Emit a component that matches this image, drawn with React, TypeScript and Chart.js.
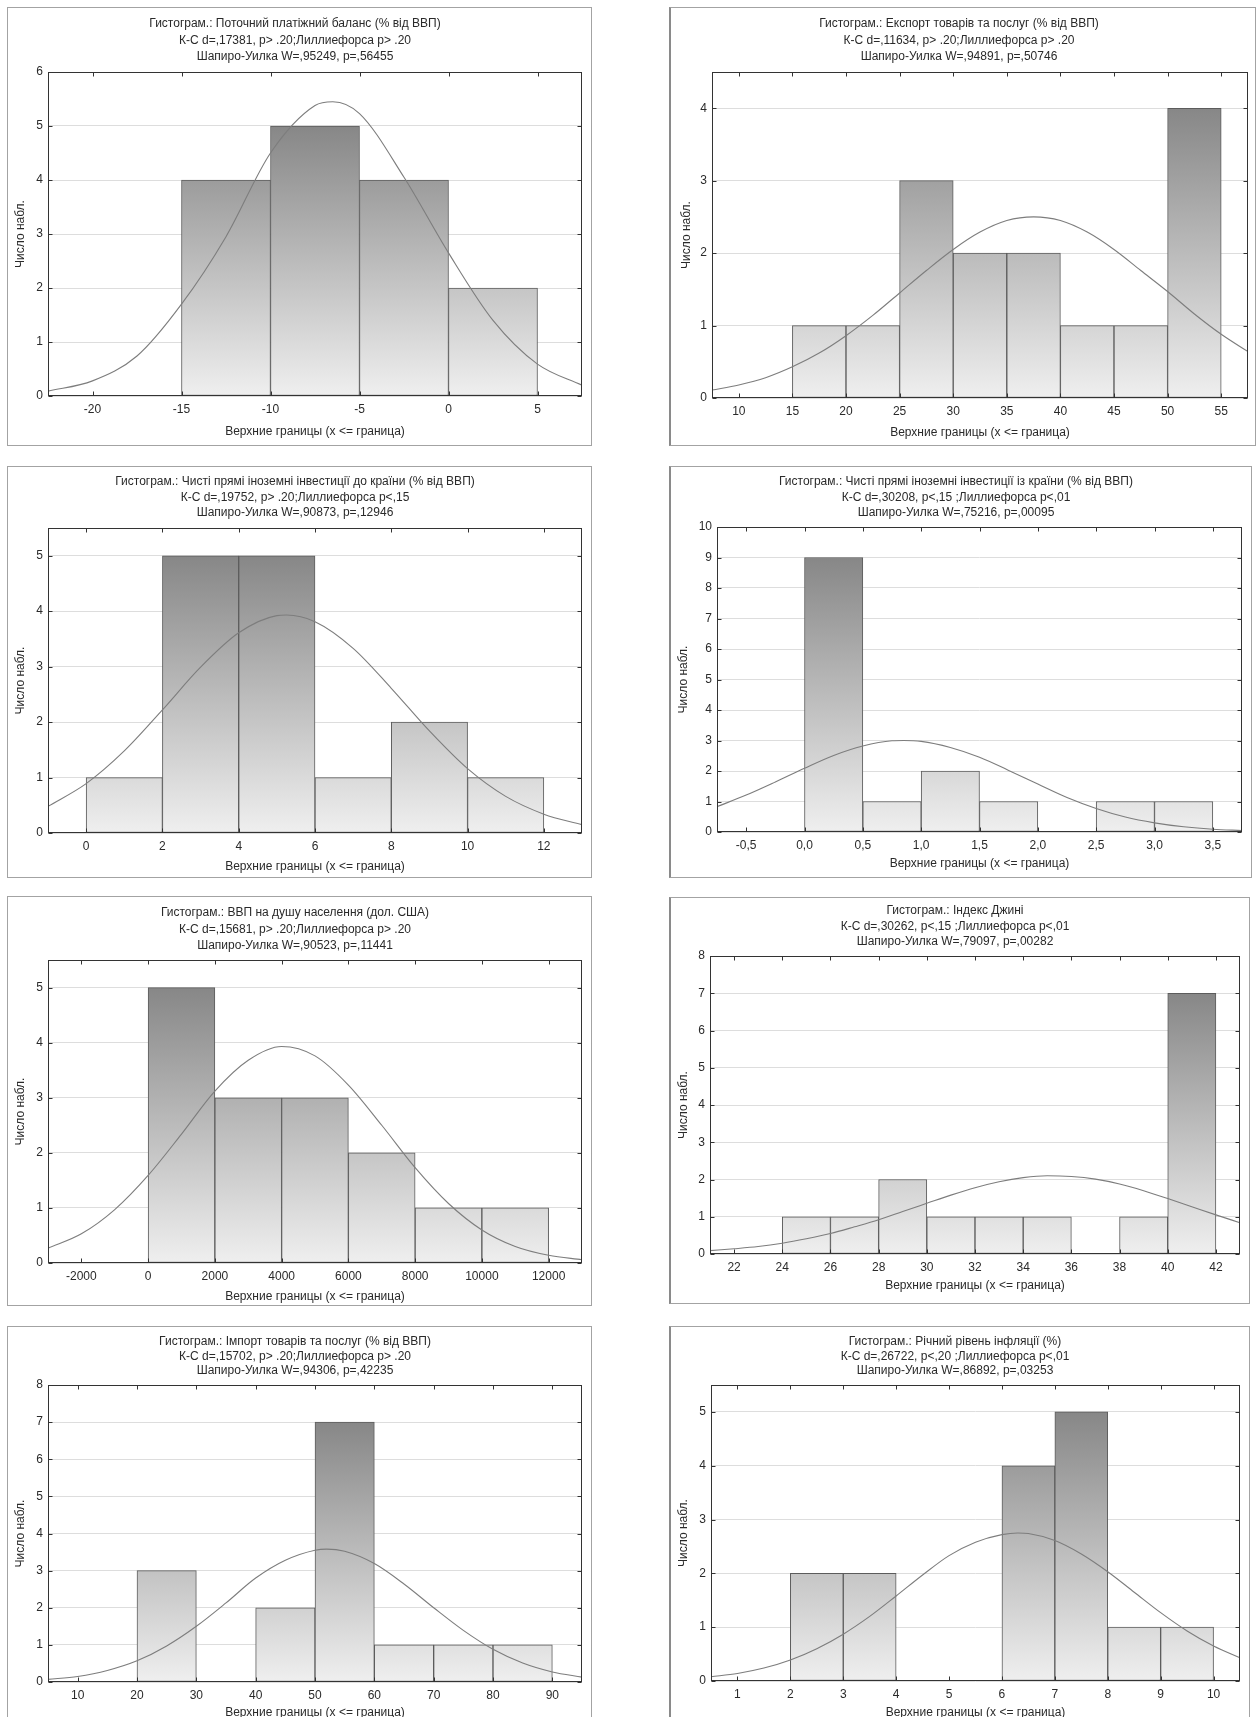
import React, { useEffect, useRef } from 'react';
import { Chart, registerables } from 'chart.js';

Chart.register(...registerables);

const FONT = '"Liberation Sans", Arial, sans-serif';
const TEXT = '#2a2a2a';
const X_TITLE = 'Верхние границы (x <= граница)';
const Y_TITLE = 'Число набл.';

// ---------- Panel 1: current account ----------
const balanceTitle = ['Гистограм.: Поточний платіжний баланс (% від ВВП)', 'К-С d=,17381, p> .20;Лиллиефорса p> .20', 'Шапиро-Уилка W=,95249, p=,56455'];
const balanceUpper = [-10, -5, 0, 5];
const balanceCounts = [4, 5, 4, 2];
const balanceCurveX = [-22.5, -20, -17.5, -15, -12.5, -10, -7.5, -6.5, -5, -2.5, 0, 2.5, 5, 7.5];
const balanceCurveY = [0.09, 0.28, 0.74, 1.7, 2.95, 4.5, 5.38, 5.45, 5.23, 4.05, 2.65, 1.4, 0.59, 0.2];
const balanceXTicks = [-20, -15, -10, -5, 0, 5];
const balanceYTicks = [0, 1, 2, 3, 4, 5, 6];

// ---------- Panel 2: exports ----------
const exportTitle = ['Гистограм.: Експорт товарів та послуг (% від ВВП)', 'К-С d=,11634, p> .20;Лиллиефорса p> .20', 'Шапиро-Уилка W=,94891, p=,50746'];
const exportUpper = [20, 25, 30, 35, 40, 45, 50, 55];
const exportCounts = [1, 1, 3, 2, 2, 1, 1, 4];
const exportCurveX = [7.5, 10, 12.5, 15, 17.5, 20, 22.5, 25, 27.5, 30, 32.5, 35, 37.5, 40, 42.5, 45, 47.5, 50, 52.5, 55, 57.5];
const exportCurveY = [0.11, 0.18, 0.28, 0.43, 0.62, 0.86, 1.14, 1.45, 1.76, 2.05, 2.29, 2.45, 2.5, 2.45, 2.29, 2.05, 1.76, 1.47, 1.16, 0.88, 0.64];
const exportXTicks = [10, 15, 20, 25, 30, 35, 40, 45, 50, 55];
const exportYTicks = [0, 1, 2, 3, 4];

// ---------- Panel 3: FDI inflows ----------
const fdiInTitle = ['Гистограм.: Чисті прямі іноземні інвестиції до країни (% від ВВП)', 'К-С d=,19752, p> .20;Лиллиефорса p<,15', 'Шапиро-Уилка W=,90873, p=,12946'];
const fdiInUpper = [2, 4, 6, 8, 10, 12];
const fdiInCounts = [1, 5, 5, 1, 2, 1];
const fdiInCurveX = [-1, 0, 1, 2, 3, 4, 5, 5.25, 6, 7, 8, 9, 10, 11, 12, 13];
const fdiInCurveY = [0.48, 0.89, 1.48, 2.22, 2.99, 3.61, 3.92, 3.93, 3.81, 3.33, 2.61, 1.84, 1.16, 0.66, 0.34, 0.15];
const fdiInXTicks = [0, 2, 4, 6, 8, 10, 12];
const fdiInYTicks = [0, 1, 2, 3, 4, 5];

// ---------- Panel 4: FDI outflows ----------
const fdiOutTitle = ['Гистограм.: Чисті прямі іноземні інвестиції із країни (% від ВВП)', 'К-С d=,30208, p<,15 ;Лиллиефорса p<,01', 'Шапиро-Уилка W=,75216, p=,00095'];
const fdiOutUpper = [0.5, 1, 1.5, 2, 2.5, 3, 3.5];
const fdiOutCounts = [9, 1, 2, 1, 0, 1, 1];
const fdiOutCurveX = [-0.75, -0.5, -0.25, 0, 0.25, 0.5, 0.75, 0.85, 1, 1.25, 1.5, 1.75, 2, 2.25, 2.5, 2.75, 3, 3.25, 3.5, 3.75];
const fdiOutCurveY = [0.83, 1.21, 1.64, 2.09, 2.51, 2.82, 2.99, 3.0, 2.97, 2.77, 2.45, 2.02, 1.57, 1.13, 0.77, 0.49, 0.3, 0.17, 0.09, 0.05];
const fdiOutXTicks = [-0.5, 0, 0.5, 1, 1.5, 2, 2.5, 3, 3.5];
const fdiOutYTicks = [0, 1, 2, 3, 4, 5, 6, 7, 8, 9, 10];

// ---------- Panel 5: GDP per capita ----------
const gdpTitle = ['Гистограм.: ВВП на душу населення (дол. США)', 'К-С d=,15681, p> .20;Лиллиефорса p> .20', 'Шапиро-Уилка W=,90523, p=,11441'];
const gdpUpper = [2000, 4000, 6000, 8000, 10000, 12000];
const gdpCounts = [5, 3, 3, 2, 1, 1];
const gdpCurveX = [-3000, -2000, -1000, 0, 1000, 2000, 3000, 4000, 5000, 6000, 7000, 8000, 9000, 10000, 11000, 12000, 13000];
const gdpCurveY = [0.27, 0.53, 0.97, 1.59, 2.34, 3.12, 3.68, 3.93, 3.76, 3.23, 2.5, 1.73, 1.08, 0.6, 0.3, 0.14, 0.06];
const gdpXTicks = [-2000, 0, 2000, 4000, 6000, 8000, 10000, 12000];
const gdpYTicks = [0, 1, 2, 3, 4, 5];

// ---------- Panel 6: Gini index ----------
const giniTitle = ['Гистограм.: Індекс Джині', 'К-С d=,30262, p<,15 ;Лиллиефорса p<,01', 'Шапиро-Уилка W=,79097, p=,00282'];
const giniUpper = [26, 28, 30, 32, 34, 36, 38, 40, 42];
const giniCounts = [1, 1, 2, 1, 1, 1, 0, 1, 7];
const giniCurveX = [21, 22, 23, 24, 25, 26, 27, 28, 29, 30, 31, 32, 33, 34, 35, 36, 37, 38, 39, 40, 41, 42, 43];
const giniCurveY = [0.09, 0.14, 0.2, 0.29, 0.41, 0.55, 0.73, 0.92, 1.14, 1.36, 1.58, 1.78, 1.94, 2.05, 2.1, 2.08, 2.01, 1.88, 1.7, 1.49, 1.27, 1.05, 0.84];
const giniXTicks = [22, 24, 26, 28, 30, 32, 34, 36, 38, 40, 42];
const giniYTicks = [0, 1, 2, 3, 4, 5, 6, 7, 8];

// ---------- Panel 7: imports ----------
const importTitle = ['Гистограм.: Імпорт товарів та послуг (% від ВВП)', 'К-С d=,15702, p> .20;Лиллиефорса p> .20', 'Шапиро-Уилка W=,94306, p=,42235'];
const importUpper = [30, 40, 50, 60, 70, 80, 90];
const importCounts = [3, 0, 2, 7, 1, 1, 1];
const importCurveX = [5, 10, 15, 20, 25, 30, 35, 40, 45, 50, 52, 55, 60, 65, 70, 75, 80, 85, 90, 95];
const importCurveY = [0.07, 0.15, 0.31, 0.57, 0.97, 1.5, 2.13, 2.8, 3.28, 3.55, 3.58, 3.52, 3.19, 2.64, 2.0, 1.39, 0.88, 0.51, 0.27, 0.13];
const importXTicks = [10, 20, 30, 40, 50, 60, 70, 80, 90];
const importYTicks = [0, 1, 2, 3, 4, 5, 6, 7, 8];

// ---------- Panel 8: inflation ----------
const inflTitle = ['Гистограм.: Річний рівень інфляції (%)', 'К-С d=,26722, p<,20 ;Лиллиефорса p<,01', 'Шапиро-Уилка W=,86892, p=,03253'];
const inflUpper = [3, 4, 5, 6, 7, 8, 9, 10];
const inflCounts = [2, 2, 0, 0, 4, 5, 1, 1];
const inflCurveX = [0.5, 1, 1.5, 2, 2.5, 3, 3.5, 4, 4.5, 5, 5.5, 6, 6.3, 6.5, 7, 7.5, 8, 8.5, 9, 9.5, 10, 10.5];
const inflCurveY = [0.08, 0.14, 0.24, 0.39, 0.6, 0.87, 1.2, 1.58, 1.97, 2.33, 2.58, 2.72, 2.75, 2.74, 2.61, 2.36, 2.03, 1.65, 1.27, 0.93, 0.65, 0.43];
const inflXTicks = [1, 2, 3, 4, 5, 6, 7, 8, 9, 10];
const inflYTicks = [0, 1, 2, 3, 4, 5];

type Spec = {
  title: string[];
  upper: number[];
  counts: number[];
  binWidth: number;
  curveX: number[];
  curveY: number[];
  xTicks: number[];
  yTicks: number[];
  xRange: [number, number];
  yMax: number;
  fmt: (v: number) => string;
  frame: [number, number, number, number];
  plot: [number, number, number, number];
  t1: number;
  lh: number;
  yTitleX: number;
  xTitleGap: number;
};

const plain = (v: number) => String(v);
const comma = (v: number) => v.toFixed(1).replace('.', ',');

const PANELS: Spec[] = [
  { title: balanceTitle, upper: balanceUpper, counts: balanceCounts, binWidth: 5, curveX: balanceCurveX, curveY: balanceCurveY, xTicks: balanceXTicks, yTicks: balanceYTicks, xRange: [-22.5, 7.5], yMax: 6, fmt: plain,
    frame: [7, 7, 591, 445], plot: [48, 72, 582, 396], t1: 24, lh: 16.5, yTitleX: 21, xTitleGap: 36 },
  { title: exportTitle, upper: exportUpper, counts: exportCounts, binWidth: 5, curveX: exportCurveX, curveY: exportCurveY, xTicks: exportXTicks, yTicks: exportYTicks, xRange: [7.5, 57.5], yMax: 4.5, fmt: plain,
    frame: [669, 7, 1255, 445], plot: [712, 72, 1248, 398], t1: 24, lh: 16.5, yTitleX: 687, xTitleGap: 35 },
  { title: fdiInTitle, upper: fdiInUpper, counts: fdiInCounts, binWidth: 2, curveX: fdiInCurveX, curveY: fdiInCurveY, xTicks: fdiInXTicks, yTicks: fdiInYTicks, xRange: [-1, 13], yMax: 5.5, fmt: plain,
    frame: [7, 466, 591, 877], plot: [48, 528, 582, 833], t1: 482, lh: 15.5, yTitleX: 21, xTitleGap: 34 },
  { title: fdiOutTitle, upper: fdiOutUpper, counts: fdiOutCounts, binWidth: 0.5, curveX: fdiOutCurveX, curveY: fdiOutCurveY, xTicks: fdiOutXTicks, yTicks: fdiOutYTicks, xRange: [-0.75, 3.75], yMax: 10, fmt: comma,
    frame: [669, 466, 1251, 877], plot: [717, 527, 1242, 832], t1: 482, lh: 15.5, yTitleX: 684, xTitleGap: 32 },
  { title: gdpTitle, upper: gdpUpper, counts: gdpCounts, binWidth: 2000, curveX: gdpCurveX, curveY: gdpCurveY, xTicks: gdpXTicks, yTicks: gdpYTicks, xRange: [-3000, 13000], yMax: 5.5, fmt: plain,
    frame: [7, 896, 591, 1305], plot: [48, 960, 582, 1263], t1: 913, lh: 16.5, yTitleX: 21, xTitleGap: 34 },
  { title: giniTitle, upper: giniUpper, counts: giniCounts, binWidth: 2, curveX: giniCurveX, curveY: giniCurveY, xTicks: giniXTicks, yTicks: giniYTicks, xRange: [21, 43], yMax: 8, fmt: plain,
    frame: [669, 897, 1249, 1303], plot: [710, 956, 1240, 1254], t1: 911, lh: 15.5, yTitleX: 684, xTitleGap: 32 },
  { title: importTitle, upper: importUpper, counts: importCounts, binWidth: 10, curveX: importCurveX, curveY: importCurveY, xTicks: importXTicks, yTicks: importYTicks, xRange: [5, 95], yMax: 8, fmt: plain,
    frame: [7, 1326, 591, 1745], plot: [48, 1385, 582, 1682], t1: 1342, lh: 14.5, yTitleX: 21, xTitleGap: 31 },
  { title: inflTitle, upper: inflUpper, counts: inflCounts, binWidth: 1, curveX: inflCurveX, curveY: inflCurveY, xTicks: inflXTicks, yTicks: inflYTicks, xRange: [0.5, 10.5], yMax: 5.5, fmt: plain,
    frame: [669, 1326, 1249, 1745], plot: [711, 1385, 1240, 1681], t1: 1342, lh: 14.5, yTitleX: 684, xTitleGap: 32 },
];

const frameTicks = {
  id: 'frameTicks',
  afterDraw(chart: any) {
    const { ctx, chartArea: a, scales } = chart;
    const L = Math.round(a.left) + 0.5;
    const R = Math.round(a.right) - 0.5;
    const T = Math.round(a.top) + 0.5;
    const B = Math.round(a.bottom) - 0.5;
    ctx.save();
    ctx.strokeStyle = '#333';
    ctx.lineWidth = 1;
    ctx.strokeRect(L, T, R - L, B - T);
    ctx.beginPath();
    scales.x.ticks.forEach((_: any, i: number) => {
      const px = Math.round(scales.x.getPixelForTick(i)) + 0.5;
      ctx.moveTo(px, T); ctx.lineTo(px, T + 4);
      ctx.moveTo(px, B); ctx.lineTo(px, B - 4);
    });
    scales.y.ticks.forEach((_: any, i: number) => {
      const py = Math.round(scales.y.getPixelForTick(i)) + 0.5;
      ctx.moveTo(L, py); ctx.lineTo(L + 4, py);
      ctx.moveTo(R, py); ctx.lineTo(R - 4, py);
    });
    ctx.stroke();
    ctx.restore();
  },
};

function Histogram({ spec }: { spec: Spec }) {
  const ref = useRef<HTMLCanvasElement>(null);
  const [fl, ft, fr, fb] = spec.frame;
  const cx = fl + 1;
  const cy = ft + 1;
  const cw = fr - fl - 1;
  const ch = fb - ft - 1;

  useEffect(() => {
    const [pl, pt, pr, pb] = spec.plot;
    const lh = spec.lh;
    const titlePadTop = spec.t1 - cy - lh / 2;
    const titlePadBottom = pt - cy - titlePadTop - 3 * lh;
    const xH = spec.xTitleGap + 7.2 + 2;
    const yW = pl - cx;
    const padRight = cw - (pr - cx);
    const padBottom = ch - (pb - cy) - xH;
    const maxCount = Math.max(...spec.counts);
    const bars = spec.upper.map((u, i) => ({ x: u - spec.binWidth / 2, y: spec.counts[i] === 0 ? null : spec.counts[i] }));
    const curve = spec.curveX.map((x, i) => ({ x, y: spec.curveY[i] }));
    const font = { family: FONT, size: 12, weight: 'normal' as const };

    const grad = (c: any) => {
      const chart = c.chart;
      if (!chart.chartArea) return '#cccccc';
      const y = chart.scales.y;
      const g = chart.ctx.createLinearGradient(0, y.getPixelForValue(0), 0, y.getPixelForValue(maxCount));
      g.addColorStop(0, '#efefef');
      g.addColorStop(1, '#878787');
      return g;
    };

    const chart = new Chart(ref.current as HTMLCanvasElement, {
      type: 'bar',
      data: {
        datasets: [
          { type: 'line', data: curve as any, borderColor: '#7d7d7d', borderWidth: 1.1, pointRadius: 0, cubicInterpolationMode: 'monotone', fill: false, order: 0 } as any,
          { type: 'bar', data: bars as any, backgroundColor: grad, borderColor: '#5c5c5c', borderWidth: 1, borderSkipped: false, barPercentage: 1, categoryPercentage: 1, order: 1 } as any,
        ],
      },
      options: {
        responsive: false,
        animation: false,
        devicePixelRatio: 1,
        events: [],
        layout: { padding: { top: 0, left: 0, right: padRight, bottom: padBottom } },
        plugins: {
          legend: { display: false },
          tooltip: { enabled: false },
          title: {
            display: true,
            text: spec.title,
            color: TEXT,
            font: { family: FONT, size: 12, weight: 'normal', lineHeight: `${lh}px` } as any,
            padding: { top: titlePadTop, bottom: titlePadBottom },
          },
        },
        scales: {
          x: {
            type: 'linear',
            min: spec.xRange[0],
            max: spec.xRange[1],
            offset: false,
            grid: { display: false, drawTicks: false, offset: false },
            border: { display: false },
            afterBuildTicks: (s: any) => { s.ticks = spec.xTicks.map((v) => ({ value: v })); },
            ticks: { autoSkip: false, maxRotation: 0, minRotation: 0, padding: 6, color: TEXT, font, callback: (v: any) => spec.fmt(Number(v)) },
            title: { display: true, text: X_TITLE, color: TEXT, font, padding: { top: 0, bottom: 2 } },
            afterFit: (s: any) => { s.height = xH; },
          } as any,
          y: {
            type: 'linear',
            min: 0,
            max: spec.yMax,
            grid: { color: '#dddddd', drawTicks: false },
            border: { display: false },
            afterBuildTicks: (s: any) => { s.ticks = spec.yTicks.map((v) => ({ value: v })); },
            ticks: { padding: 5, color: TEXT, font, callback: (v: any) => String(v) },
            title: { display: true, text: Y_TITLE, color: TEXT, font, padding: { top: spec.yTitleX - cx - 7.2, bottom: 0 } },
            afterFit: (s: any) => { s.width = yW; },
          } as any,
        },
      },
      plugins: [frameTicks],
    });
    return () => chart.destroy();
  }, []);

  return (
    <div
      style={{
        position: 'absolute',
        left: fl,
        top: ft,
        width: fr - fl + 1,
        height: fb - ft + 1,
        boxSizing: 'border-box',
        border: '1px solid #a3a3a3',
        borderLeft: fl > 600 ? '2px solid #8a8a8a' : '1px solid #a3a3a3',
        background: '#ffffff',
      }}
    >
      <canvas
        ref={ref}
        width={cw}
        height={ch}
        style={{ display: 'block', width: cw, height: ch, marginLeft: fl > 600 ? -1 : 0 }}
      />
    </div>
  );
}

export default function App() {
  return (
    <div style={{ position: 'absolute', left: 0, top: 0, width: 1256, height: 1717, overflow: 'hidden', background: '#ffffff' }}>
      {PANELS.map((p, i) => (
        <Histogram key={i} spec={p} />
      ))}
    </div>
  );
}
